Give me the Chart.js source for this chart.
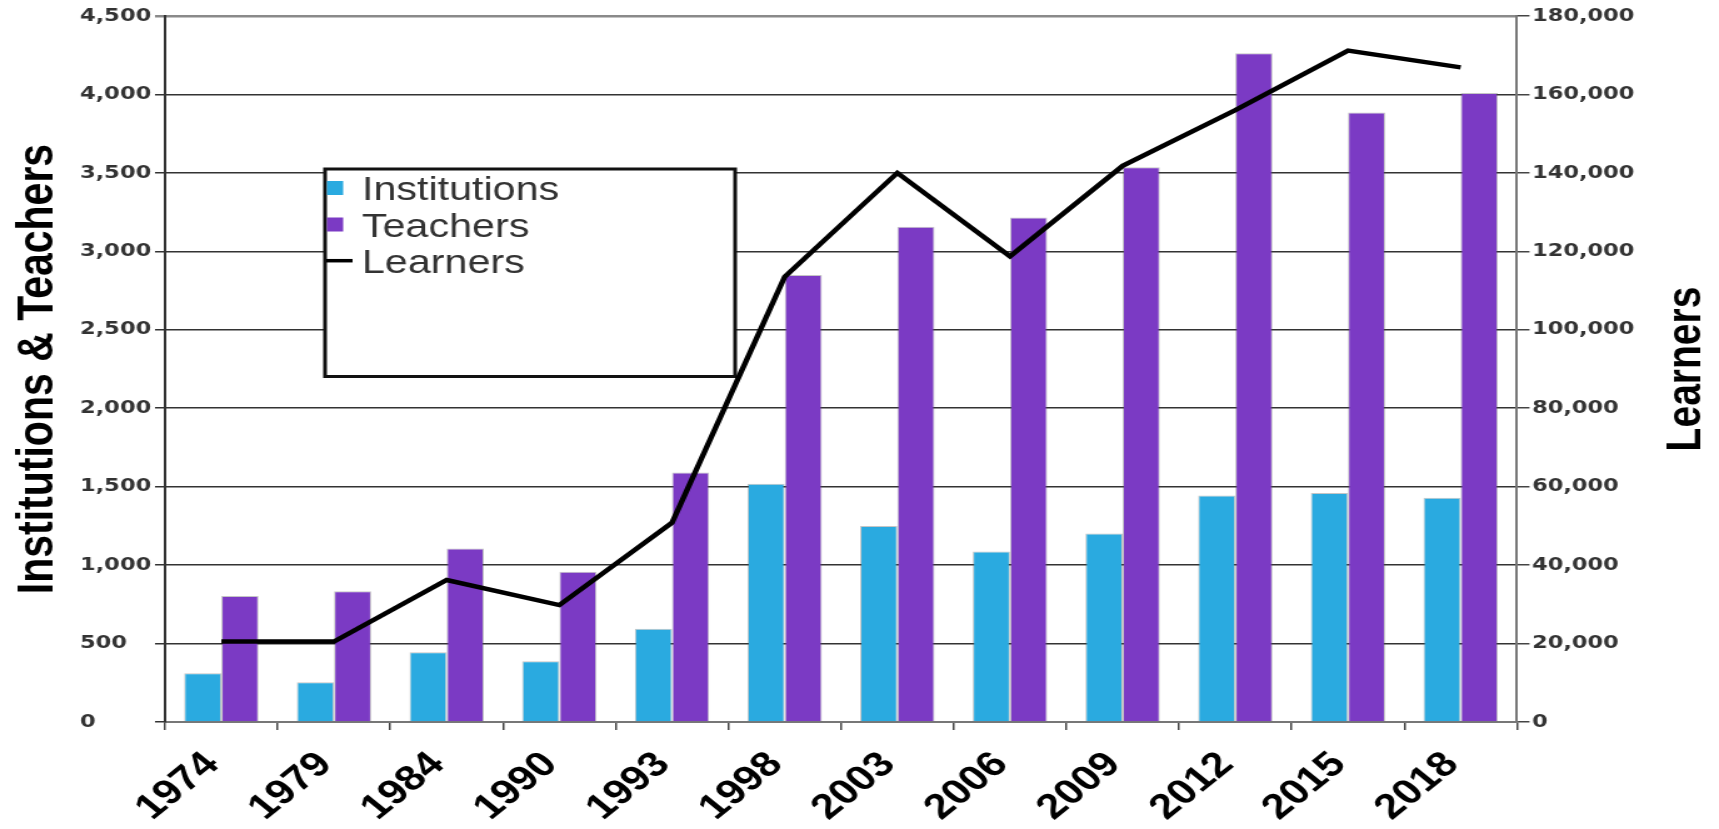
<!DOCTYPE html>
<html><head><meta charset="utf-8">
<script src="https://cdn.jsdelivr.net/npm/chart.js@4.4.0/dist/chart.umd.min.js"></script>
<style>
html,body{margin:0;padding:0;background:#fff;overflow:hidden;}
#wrap{position:absolute;left:0;top:0;width:1375px;height:829px;transform:scaleX(1.25018);transform-origin:0 0;}
</style></head><body>
<div id="wrap"><canvas id="c"></canvas></div>
<script>
const years = ['1974','1979','1984','1990','1993','1998','2003','2006','2009','2012','2015','2018'];
const institutions = [310, 253, 444, 388, 595, 1518, 1249, 1087, 1201, 1444, 1459, 1430];
const teachers = [803, 834, 1106, 957, 1590, 2849, 3156, 3215, 3536, 4262, 3885, 4010];
const learners = [20500, 20500, 36200, 29800, 50800, 113500, 140000, 118700, 141800, 156000, 171200, 166900];
const seriesNames = ['Institutions', 'Teachers', 'Learners'];
const axisTitles = ['Institutions & Teachers', 'Learners'];

const fmt = v => Number(v).toLocaleString('en-US');
const tickFont = {family: '"DejaVu Sans", sans-serif', size: 18, weight: 'bold'};
const titleFont = 'bold 39px "Liberation Sans", Arial, sans-serif';

const boxLegend = {
  id: 'boxLegend',
  beforeDatasetsDraw(chart) {
    const ctx = chart.ctx;
    ctx.save();
    const L = 260, T = 169, R = 588, B = 376.5;
    ctx.fillStyle = '#fff';
    ctx.fillRect(L, T, R - L, B - T);
    ctx.lineWidth = 3;
    ctx.strokeStyle = '#111';
    ctx.strokeRect(L, T, R - L, B - T);
    ctx.font = '33px "Liberation Sans", Arial, sans-serif';
    ctx.textBaseline = 'alphabetic';
    ctx.textAlign = 'left';
    const rows = [200, 236.5, 273];
    chart.data.datasets.forEach((ds, i) => {
      const y = rows[i];
      if (ds.type === 'line') {
        ctx.strokeStyle = ds.borderColor;
        ctx.lineWidth = 3.5;
        ctx.beginPath();
        ctx.moveTo(261, y - 12.3);
        ctx.lineTo(282, y - 12.3);
        ctx.stroke();
      } else {
        ctx.fillStyle = ds.backgroundColor;
        ctx.fillRect(261.5, y - 19, 13, 14);
      }
      ctx.fillStyle = '#333';
      ctx.fillText(ds.label, 289.5, y);
    });
    ctx.restore();
  }
};

const rightTitle = {
  id: 'rightTitle',
  afterDraw(chart) {
    const ctx = chart.ctx;
    const s = chart.scales.y1;
    ctx.save();
    ctx.translate(s.right - 26, (s.top + s.bottom) / 2);
    ctx.rotate(-Math.PI / 2);
    ctx.font = titleFont;
    ctx.fillStyle = '#000';
    ctx.textAlign = 'center';
    ctx.textBaseline = 'middle';
    ctx.fillText(axisTitles[1], 0, 0);
    ctx.restore();
  }
};

new Chart(document.getElementById('c'), {
  type: 'bar',
  data: {
    labels: years,
    datasets: [
      {label: seriesNames[0], data: institutions, backgroundColor: '#2AAAE0', borderColor: 'rgba(90,90,90,0.35)', borderWidth: 1, yAxisID: 'y', categoryPercentage: 0.66, barPercentage: 1, order: 1},
      {label: seriesNames[1], data: teachers, backgroundColor: '#7B3AC4', borderColor: 'rgba(90,90,90,0.35)', borderWidth: 1, yAxisID: 'y', categoryPercentage: 0.66, barPercentage: 1, order: 1},
      {label: seriesNames[2], type: 'line', data: learners, borderColor: '#000', backgroundColor: '#000', borderWidth: 4.5, pointRadius: 0, tension: 0, fill: false, yAxisID: 'y1', order: 0}
    ]
  },
  options: {
    responsive: true,
    maintainAspectRatio: false,
    animation: false,
    layout: {padding: {left: 64, top: 16, right: 0, bottom: 0}},
    plugins: {legend: {display: false}, tooltip: {enabled: false}},
    scales: {
      x: {
        offset: true,
        grid: {offset: true, drawOnChartArea: false, drawTicks: true, tickLength: 8, color: '#444', lineWidth: 1.5},
        border: {display: true, color: '#777', width: 2},
        ticks: {minRotation: 45, maxRotation: 45, autoSkip: false, padding: 14, labelOffset: -7, color: '#000',
          font: {family: '"Liberation Sans", Arial, sans-serif', size: 35, weight: 'bold'}},
        afterFit(s) { s.height = 107; }
      },
      y: {
        position: 'left', min: 0, max: 4500,
        ticks: {stepSize: 500, crossAlign: 'far', padding: 4, color: '#333', font: tickFont, callback: fmt},
        grid: {color: c => (c.tick && c.tick.value === 4500) ? '#8a8a8a' : '#333', lineWidth: c => (c.tick && c.tick.value === 4500) ? 2.5 : 1.5, tickLength: 8, drawTicks: true},
        border: {display: true, color: '#333', width: 2},
        title: {display: true, text: axisTitles[0], color: '#000',
          font: {family: '"Liberation Sans", Arial, sans-serif', size: 41, weight: 'bold', lineHeight: 1}, padding: {top: -54, bottom: 0}},
        afterFit(s) { s.width = 68; }
      },
      y1: {
        position: 'right', min: 0, max: 180000,
        ticks: {stepSize: 20000, padding: 2, color: '#333', font: tickFont, callback: fmt},
        grid: {drawOnChartArea: false, drawTicks: true, tickLength: 10, color: '#444', lineWidth: 1.5},
        border: {display: true, color: '#777', width: 2},
        title: {display: false},
        afterFit(s) { s.width = 161.6; }
      }
    }
  },
  plugins: [boxLegend, rightTitle]
});
</script>
</body></html>
